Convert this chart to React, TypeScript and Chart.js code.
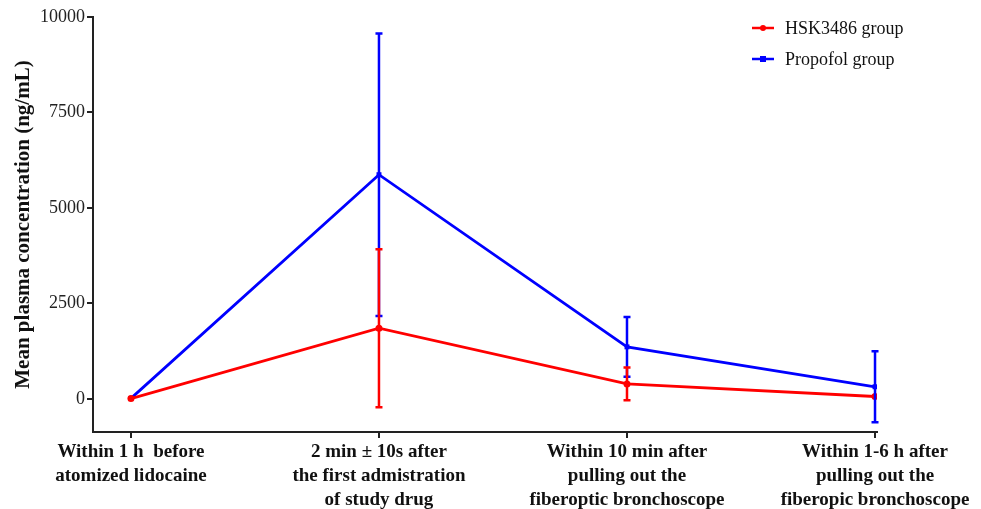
import React, { useEffect, useRef } from "react";
import { Chart, registerables } from "chart.js";

Chart.register(...registerables);

const categories: string[][] = [
  ["Within 1 h  before", "atomized lidocaine"],
  ["2 min ± 10s after", "the first admistration", "of study drug"],
  ["Within 10 min after", "pulling out the", "fiberoptic bronchoscope"],
  ["Within 1-6 h after", "pulling out the", "fiberopic bronchoscope"],
];
const hskMean = [5, 1850, 390, 60];
const hskSD = [0, 2070, 430, 0];
const propMean = [10, 5870, 1360, 315];
const propSD = [0, 3700, 785, 930];
const yTicks = [0, 2500, 5000, 7500, 10000];
const seriesNames = ["HSK3486 group", "Propofol group"];
const seriesColors = ["#ff0000", "#0000ff"];

const FONT = "'Liberation Serif', 'Times New Roman', serif";

const errorBarPlugin = {
  id: "errorBars",
  afterDatasetsDraw(chart: any) {
    const { ctx, scales } = chart;
    const x = scales.x;
    const y = scales.y;
    const sets = [
      { mean: propMean, sd: propSD, color: seriesColors[1] },
      { mean: hskMean, sd: hskSD, color: seriesColors[0] },
    ];
    ctx.save();
    for (const s of sets) {
      ctx.strokeStyle = s.color;
      ctx.lineWidth = 2.5;
      s.mean.forEach((m, i) => {
        if (!s.sd[i]) return;
        const px = x.getPixelForValue(i);
        const top = y.getPixelForValue(m + s.sd[i]);
        const bot = y.getPixelForValue(m - s.sd[i]);
        ctx.beginPath();
        ctx.moveTo(px, top);
        ctx.lineTo(px, bot);
        ctx.moveTo(px - 3.5, top);
        ctx.lineTo(px + 3.5, top);
        ctx.moveTo(px - 3.5, bot);
        ctx.lineTo(px + 3.5, bot);
        ctx.stroke();
      });
    }
    ctx.restore();
  },
};

const legendPlugin = {
  id: "customLegend",
  afterDraw(chart: any) {
    const { ctx } = chart;
    ctx.save();
    const rows = [28, 59];
    seriesNames.forEach((name, i) => {
      const yy = rows[i];
      ctx.strokeStyle = seriesColors[i];
      ctx.fillStyle = seriesColors[i];
      ctx.lineWidth = 2.5;
      ctx.beginPath();
      ctx.moveTo(752, yy);
      ctx.lineTo(774, yy);
      ctx.stroke();
      if (i === 0) {
        ctx.beginPath();
        ctx.arc(763, yy, 3, 0, Math.PI * 2);
        ctx.fill();
      } else {
        ctx.fillRect(760, yy - 3, 6, 6);
      }
      ctx.fillStyle = "#111";
      ctx.font = `18px ${FONT}`;
      ctx.textBaseline = "middle";
      ctx.fillText(name, 785, yy + 1);
    });
    ctx.restore();
  },
};

export default function App() {
  const ref = useRef<HTMLCanvasElement>(null);
  useEffect(() => {
    document.body.style.margin = "0";
    const chart = new Chart(ref.current!, {
      type: "line",
      data: {
        datasets: [
          {
            label: seriesNames[0],
            data: hskMean.map((v, i) => ({ x: i, y: v })),
            borderColor: seriesColors[0],
            backgroundColor: seriesColors[0],
            borderWidth: 2.8,
            pointStyle: "circle",
            pointRadius: 3.5,
            pointBorderWidth: 0,
            tension: 0,
          },
          {
            label: seriesNames[1],
            data: propMean.map((v, i) => ({ x: i, y: v })),
            borderColor: seriesColors[1],
            backgroundColor: seriesColors[1],
            borderWidth: 2.8,
            pointStyle: "rect",
            pointRadius: 3.5,
            pointBorderWidth: 0,
            tension: 0,
          },
        ],
      },
      options: {
        animation: false,
        responsive: false,
        maintainAspectRatio: false,
        layout: { padding: { top: 17, right: 104, left: 0, bottom: 0 } },
        plugins: { legend: { display: false }, tooltip: { enabled: false } },
        scales: {
          x: {
            type: "linear",
            min: -0.153,
            max: 3.008,
            afterBuildTicks: (s: any) => {
              s.ticks = categories.map((_, i) => ({ value: i }));
            },
            afterFit: (s: any) => {
              s.height = 77;
            },
            ticks: {
              autoSkip: false,
              maxRotation: 0,
              color: "#111",
              font: { family: FONT, size: 19, weight: "bold", lineHeight: 1.26 },
              padding: 2,
              callback: (v: any) => categories[Number(v)] ?? "",
            },
            grid: {
              drawOnChartArea: false,
              drawTicks: true,
              tickLength: 6,
              color: "#222",
              lineWidth: 2,
            },
            border: { color: "#222", width: 2 },
          },
          y: {
            type: "linear",
            min: -870,
            max: 10000,
            afterBuildTicks: (s: any) => {
              s.ticks = yTicks.map((v) => ({ value: v }));
            },
            afterFit: (s: any) => {
              s.width = 93;
            },
            ticks: {
              color: "#222",
              font: { family: FONT, size: 18 },
              padding: 2,
              callback: (v: any) => String(v),
            },
            grid: {
              drawOnChartArea: false,
              drawTicks: true,
              tickLength: 6,
              color: "#222",
              lineWidth: 2,
            },
            border: { color: "#222", width: 2 },
            title: {
              display: true,
              text: "Mean plasma concentration (ng/mL)",
              color: "#111",
              font: { family: FONT, size: 21, weight: "bold" },
              padding: { top: 11, bottom: 4 },
            },
          },
        },
      },
      plugins: [errorBarPlugin, legendPlugin],
    });
    return () => chart.destroy();
  }, []);
  return (
    <div style={{ width: 981, height: 509, background: "#fff" }}>
      <canvas ref={ref} width={981} height={509} style={{ display: "block" }} />
    </div>
  );
}
